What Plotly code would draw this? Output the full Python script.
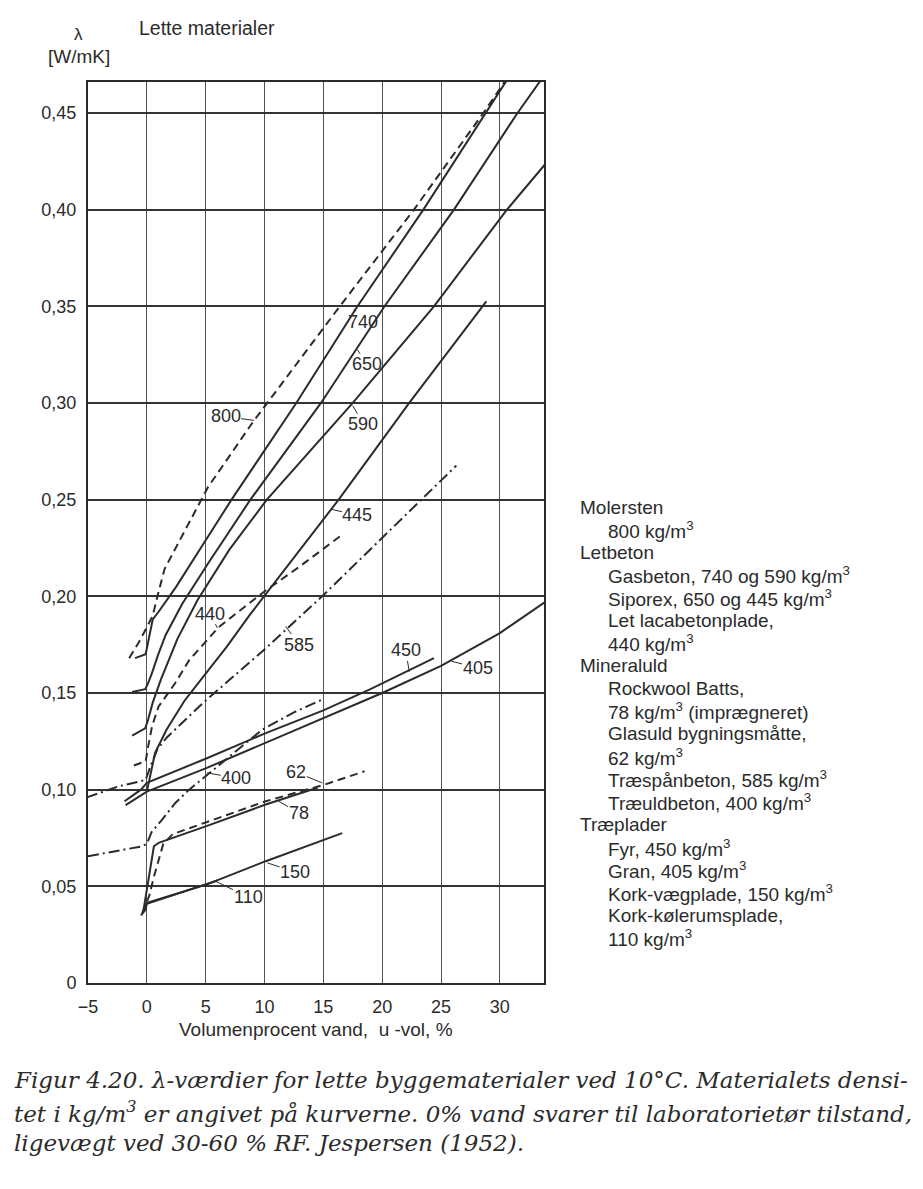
import plotly.graph_objects as go

# lambda [W/mK] against water content [vol-%]
x_800 = [-1.5, -0.7, 0.0, 0.5, 0.9, 1.5, 2.8, 5.2, 9.0, 16.4, 22.7, 28.6, 30.5]
y_800 = [0.168, 0.176, 0.184, 0.190, 0.200, 0.214, 0.229, 0.2565, 0.290, 0.350, 0.400, 0.450, 0.467]

x_740 = [-1.0, -0.1, 0.2, 0.5, 1.0, 2.5, 5.0, 7.2, 12.7, 17.9, 23.5, 28.8, 30.6]
y_740 = [0.168, 0.170, 0.179, 0.188, 0.192, 0.205, 0.229, 0.250, 0.300, 0.350, 0.400, 0.450, 0.467]

x_650 = [-1.25, -0.14, 0.1, 0.42, 0.97, 1.6, 3.0, 5.2, 8.8, 14.8, 20.2, 26.1, 31.5, 33.6]
y_650 = [0.1505, 0.152, 0.155, 0.160, 0.170, 0.180, 0.196, 0.217, 0.250, 0.300, 0.350, 0.400, 0.450, 0.468]

x_590 = [-1.25, -0.14, 0.1, 0.5, 1.2, 2.6, 4.3, 7.0, 10.2, 17.5, 24.4, 30.6, 34.75]
y_590 = [0.128, 0.1317, 0.136, 0.145, 0.157, 0.178, 0.198, 0.224, 0.250, 0.300, 0.350, 0.400, 0.430]

x_445 = [0.0, 0.3, 0.7, 1.67, 3.2, 5.0, 6.8, 8.7, 16.3, 22.3, 28.85]
y_445 = [0.099, 0.107, 0.119, 0.131, 0.146, 0.160, 0.174, 0.190, 0.250, 0.300, 0.3525]

x_440 = [-1.1, -0.1, 0.1, 0.45, 1.0, 2.4, 3.6, 6.1, 8.4, 10.1, 12.9, 14.9, 16.5]
y_440 = [0.1125, 0.1147, 0.122, 0.133, 0.143, 0.155, 0.167, 0.184, 0.195, 0.203, 0.215, 0.224, 0.2314]

x_585 = [-5.1, -2.4, -0.1, 0.3, 0.9, 1.7, 4.8, 9.9, 14.9, 19.8, 24.0, 26.3]
y_585 = [0.096, 0.1017, 0.105, 0.112, 0.121, 0.127, 0.145, 0.172, 0.200, 0.229, 0.2535, 0.2676]

x_400 = [-5.0, -0.4, 0.0, 0.4, 1.3, 2.4, 3.6, 5.0, 7.0, 9.8, 12.5, 14.9]
y_400 = [0.0656, 0.0707, 0.072, 0.078, 0.0845, 0.093, 0.100, 0.107, 0.117, 0.131, 0.140, 0.1466]

x_450 = [-1.9, -0.5, 0.0, 5.0, 10.0, 15.0, 19.0, 22.0, 24.4]
y_450 = [0.094, 0.100, 0.1035, 0.116, 0.129, 0.141, 0.152, 0.161, 0.168]

x_405 = [-1.8, 0.0, 5.0, 10.0, 15.0, 20.0, 25.0, 30.0, 34.3]
y_405 = [0.092, 0.099, 0.111, 0.124, 0.137, 0.150, 0.164, 0.181, 0.199]

x_78 = [-0.3, 0.0, 0.3, 0.6, 1.0, 5.0, 10.1, 14.5]
y_78 = [0.037, 0.048, 0.060, 0.0707, 0.0725, 0.081, 0.0923, 0.101]

x_62 = [-0.4, 0.2, 0.6, 1.0, 1.4, 2.2, 5.0, 10.1, 15.1, 18.5]
y_62 = [0.036, 0.045, 0.055, 0.063, 0.072, 0.077, 0.083, 0.094, 0.1026, 0.1095]

x_150 = [-0.2, 0.0, 5.1, 10.1, 16.6]
y_150 = [0.040, 0.0415, 0.051, 0.063, 0.0775]

x_110 = [-0.5, -0.1, 0.0, 6.0]
y_110 = [0.035, 0.038, 0.041, 0.053]

# curve labels: text, where the text sits, where its little leader touches the curve
label_text = ["800", "740", "650", "590", "445", "440", "585", "450", "405", "400", "62", "78", "150", "110"]
label_at = [(6.7, 0.293), (18.4, 0.342), (18.7, 0.320), (18.4, 0.289), (17.9, 0.242), (5.35, 0.191),
            (12.9, 0.175), (22.0, 0.172), (28.1, 0.163), (7.6, 0.106), (12.7, 0.109), (12.9, 0.088),
            (12.6, 0.0574), (8.6, 0.0445)]
label_pt = [(9.1, 0.291), (17.6, 0.3486), (17.9, 0.3275), (17.5, 0.2986), (15.65, 0.245), (6.0, 0.1836),
            (11.8, 0.1845), (22.3, 0.161), (25.9, 0.1664), (5.1, 0.1087), (14.9, 0.1035), (11.2, 0.094),
            (10.25, 0.0621), (5.85, 0.0526)]

y_ticks = [0, 0.05, 0.10, 0.15, 0.20, 0.25, 0.30, 0.35, 0.40, 0.45]
y_ticktext = ["0", "0,05", "0,10", "0,15", "0,20", "0,25", "0,30", "0,35", "0,40", "0,45"]
x_ticks = [-5, 0, 5, 10, 15, 20, 25, 30]
x_ticktext = ["\u22125", "0", "5", "10", "15", "20", "25", "30"]

legend_rows = [
    ("Molersten", 0), ("800 kg/m<sup>3</sup>", 1),
    ("Letbeton", 0), ("Gasbeton, 740 og 590 kg/m<sup>3</sup>", 1), ("Siporex, 650 og 445 kg/m<sup>3</sup>", 1),
    ("Let lacabetonplade,", 1), ("440 kg/m<sup>3</sup>", 1),
    ("Mineraluld", 0), ("Rockwool Batts,", 1), ("78 kg/m<sup>3</sup> (imprægneret)", 1),
    ("Glasuld bygningsmåtte,", 1), ("62 kg/m<sup>3</sup>", 1), ("Træspånbeton, 585 kg/m<sup>3</sup>", 1),
    ("Træuldbeton, 400 kg/m<sup>3</sup>", 1),
    ("Træplader", 0), ("Fyr, 450 kg/m<sup>3</sup>", 1), ("Gran, 405 kg/m<sup>3</sup>", 1),
    ("Kork-vægplade, 150 kg/m<sup>3</sup>", 1), ("Kork-kølerumsplade,", 1), ("110 kg/m<sup>3</sup>", 1),
]

caption = [
    "Figur 4.20. λ-værdier for lette byggematerialer ved 10°C. Materialets densi-",
    "tet i kg/m<sup>3</sup> er angivet på kurverne. 0% vand svarer til laboratorietør tilstand,",
    "ligevægt ved 30-60 % RF. Jespersen (1952).",
]

INK = "#2b2b2b"
SANS = "Liberation Sans, Arial, sans-serif"
PAD = 8                      # the page body margin
W, H = 923 - PAD, 1189 - PAD
L, R, T, B = 88, 544, 82, 983  # plot frame on the page, pixels


def px(xp, yp):
    # pixel position on the page -> paper coordinates
    return (xp - L) / (R - L), (B - yp) / (B - T)


SOLID = "solid"
DASH = "8px,5px"
DASHDOT = "11px,4px,2px,4px"

curves = [
    (x_800, y_800, DASH), (x_740, y_740, SOLID), (x_650, y_650, SOLID), (x_590, y_590, SOLID),
    (x_445, y_445, SOLID), (x_440, y_440, DASH), (x_585, y_585, DASHDOT), (x_400, y_400, DASHDOT),
    (x_450, y_450, SOLID), (x_405, y_405, SOLID), (x_78, y_78, SOLID), (x_62, y_62, DASH),
    (x_150, y_150, SOLID), (x_110, y_110, SOLID),
]

fig = go.Figure()
for xs, ys, dash in curves:
    fig.add_trace(go.Scatter(x=xs, y=ys, mode="lines", line=dict(color=INK, width=2, dash=dash),
                             showlegend=False, hoverinfo="skip"))

for txt, (tx, ty), (cx, cy) in zip(label_text, label_at, label_pt):
    fig.add_annotation(x=cx, y=cy, ax=tx, ay=ty, axref="x", ayref="y", xref="x", yref="y",
                       text=txt, showarrow=True, arrowhead=0, arrowwidth=1, arrowcolor=INK,
                       standoff=0, startstandoff=0, borderpad=0,
                       font=dict(family=SANS, size=18, color=INK))

# header texts
for txt, xp, yp, sz in [("λ", 78, 34, 17), ("[W/mK]", 79, 57, 19), ("Lette materialer", 207, 28, 19.5)]:
    ax_, ay_ = px(xp, yp)
    fig.add_annotation(x=ax_, y=ay_, xref="paper", yref="paper", text=txt, showarrow=False,
                       xanchor="center", yanchor="middle", font=dict(family=SANS, size=sz, color=INK))

# x axis title
ax_, ay_ = px(316, 1030)
fig.add_annotation(x=ax_, y=ay_, xref="paper", yref="paper", text="Volumenprocent vand,  u -vol, %",
                   showarrow=False, xanchor="center", yanchor="middle",
                   font=dict(family=SANS, size=19, color=INK))

# explanation on the right
for i, (txt, indent) in enumerate(legend_rows):
    ax_, ay_ = px(578 + 28 * indent, 507 + 22.7 * i)
    fig.add_annotation(x=ax_, y=ay_, xref="paper", yref="paper", text=txt, showarrow=False,
                       xanchor="left", yanchor="middle", font=dict(family=SANS, size=19, color=INK))

# caption
for i, txt in enumerate(caption):
    ax_, ay_ = px(12, 1080 + 31.5 * i)
    fig.add_annotation(x=ax_, y=ay_, xref="paper", yref="paper", text="<i>" + txt + "</i>",
                       showarrow=False, xanchor="left", yanchor="middle",
                       font=dict(family="DejaVu Serif, serif", size=23, color=INK))

fig.update_xaxes(range=[-5, 33.75], tickvals=x_ticks, ticktext=x_ticktext,
                 showgrid=True, gridcolor="#555", gridwidth=1.2, zeroline=False,
                 showline=True, mirror=True, linecolor=INK, linewidth=2,
                 ticks="outside", ticklen=6, tickcolor="rgba(0,0,0,0)",
                 tickfont=dict(family=SANS, size=18, color=INK))
fig.update_yaxes(range=[0, 0.466], tickvals=y_ticks, ticktext=y_ticktext,
                 showgrid=True, gridcolor="#333", gridwidth=2.2, zeroline=False,
                 showline=True, mirror=True, linecolor=INK, linewidth=2,
                 ticks="outside", ticklen=6, tickcolor="rgba(0,0,0,0)",
                 tickfont=dict(family=SANS, size=18, color=INK))

fig.update_layout(width=W, height=H, autosize=False,
                  margin=dict(l=L - PAD, r=(W + PAD) - R, t=T - PAD, b=(H + PAD) - B),
                  paper_bgcolor="white", plot_bgcolor="white", showlegend=False)

fig.write_html("out.html")
